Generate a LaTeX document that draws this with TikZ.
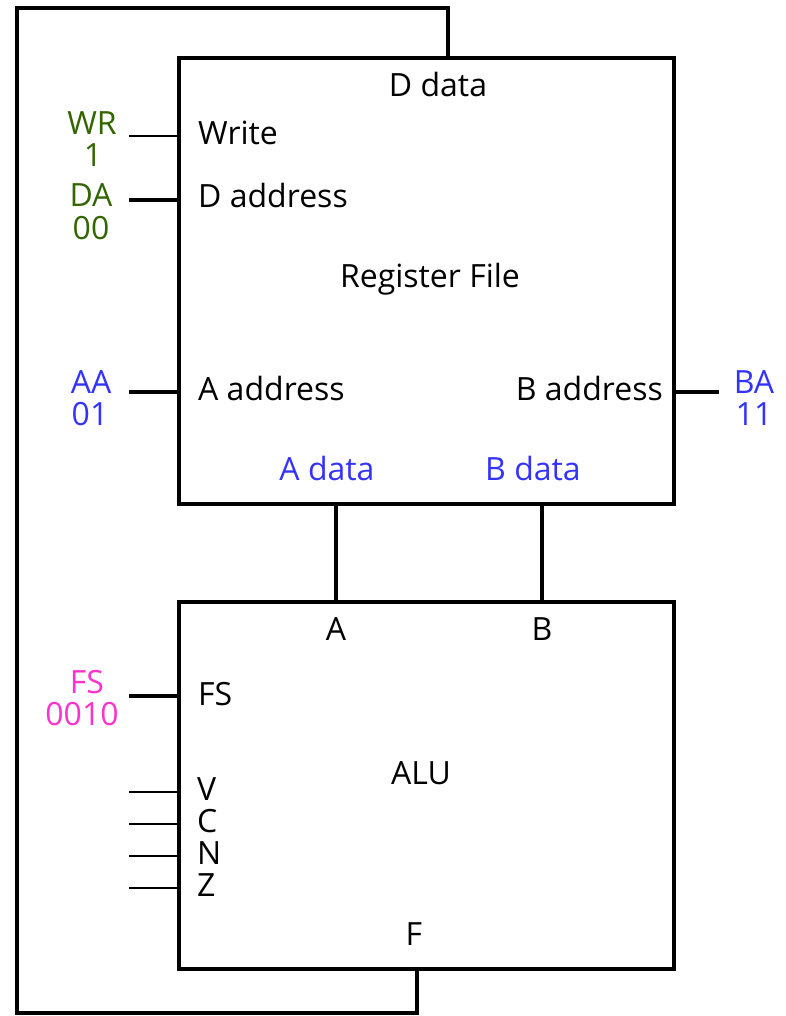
\documentclass[tikz,border=0pt]{standalone}
\usepackage{fontspec}
\setmainfont{Open Sans}
\definecolor{ctlgreen}{HTML}{336600}
\definecolor{ctlblue}{HTML}{3333FF}
\definecolor{ctlpink}{HTML}{FF33CC}
\begin{document}
\begin{tikzpicture}[x=1pt,y=-1pt,
  block/.style={draw,line width=4pt,inner sep=0pt,anchor=north west},
  bus/.style={line width=4pt},
  wire/.style={line width=2pt},
  lbl/.style={inner sep=0pt,anchor=base,font=\fontsize{32}{35}\selectfont},
  lbll/.style={lbl,anchor=base west},
  lblr/.style={lbl,anchor=base east},
  ctl/.style={lbl,align=center,anchor=base}]
\useasboundingbox (0,0) rectangle (786,1016);

% functional blocks
\node[block,minimum width=495pt,minimum height=446pt] (rf) at (177,56) {};
\node[block,minimum width=495pt,minimum height=367pt] (alu) at (177,600) {};

% register file labels
\node[lbl] (ddata) at (438,97) {D data};
\node[lbll] (write) at (198,145) {Write};
\node[lbll] (daddr) at (198,208) {D address};
\node[lbl] (rfname) at (430,287) {Register File};
\node[lbll] (aaddr) at (198,400) {A address};
\node[lblr] (baddr) at (663,400) {B address};
\node[lbl,text=ctlblue] (adata) at (327,480) {A data};
\node[lbl,text=ctlblue] (bdata) at (533,480) {B data};

% ALU labels
\node[lbl] (ain) at (336,640) {A};
\node[lbl] (bin) at (542,640) {B};
\node[lbll] (fsin) at (198,705) {FS};
\node[lbl] (aluname) at (421,784) {ALU};
\node[lbll] (vflag) at (197,800) {V};
\node[lbll] (cflag) at (197,832) {C};
\node[lbll] (nflag) at (197,864) {N};
\node[lbll] (zflag) at (197,896) {Z};
\node[lbl] (fout) at (414,945) {F};

% control values
\node[lbl,text=ctlgreen] (wr) at (92,135) {WR};
\node[lbl,text=ctlgreen] (wrv) at (93,167) {1};
\node[lbl,text=ctlgreen] (da) at (91,207) {DA};
\node[lbl,text=ctlgreen] (dav) at (91,240) {00};
\node[lbl,text=ctlblue] (aa) at (91,393) {AA};
\node[lbl,text=ctlblue] (aav) at (90,425) {01};
\node[lbl,text=ctlblue] (ba) at (754,393) {BA};
\node[lbl,text=ctlblue] (bav) at (754,425) {11};
\node[lbl,text=ctlpink] (fs) at (87,693) {FS};
\node[lbl,text=ctlpink] (fsv) at (82,725) {0010};

% stub ends of the control lines
\coordinate (wrend) at (129,136);
\coordinate (daend) at (129,200);
\coordinate (aaend) at (129,392);
\coordinate (baend) at (719,392);
\coordinate (fsend) at (129,696);
\coordinate (vend) at (129,792);
\coordinate (cend) at (129,824);
\coordinate (nend) at (129,856);
\coordinate (zend) at (129,888);

\draw[wire] (wrend) -- (wrend -| rf.west);
\draw[bus] (daend) -- (daend -| rf.west);
\draw[bus] (aaend) -- (aaend -| rf.west);
\draw[bus] (baend) -- (baend -| rf.east);
\draw[bus] (fsend) -- (fsend -| alu.west);
\draw[wire] (vend) -- (vend -| alu.west);
\draw[wire] (cend) -- (cend -| alu.west);
\draw[wire] (nend) -- (nend -| alu.west);
\draw[wire] (zend) -- (zend -| alu.west);

% data buses between register file and ALU
\draw[bus] (ain |- rf.south) -- (ain |- alu.north);
\draw[bus] (bin |- rf.south) -- (bin |- alu.north);

% result fed back to D data
\coordinate (fx) at (417,967);
\coordinate (loopbl) at (17,1013);
\coordinate (looptl) at (17,8);
\coordinate (looptr) at (448,8);
\draw[bus] (fx |- alu.south) |- (loopbl) -- (looptl) -- (looptr) -- (looptr |- rf.north);
\end{tikzpicture}
\end{document}
